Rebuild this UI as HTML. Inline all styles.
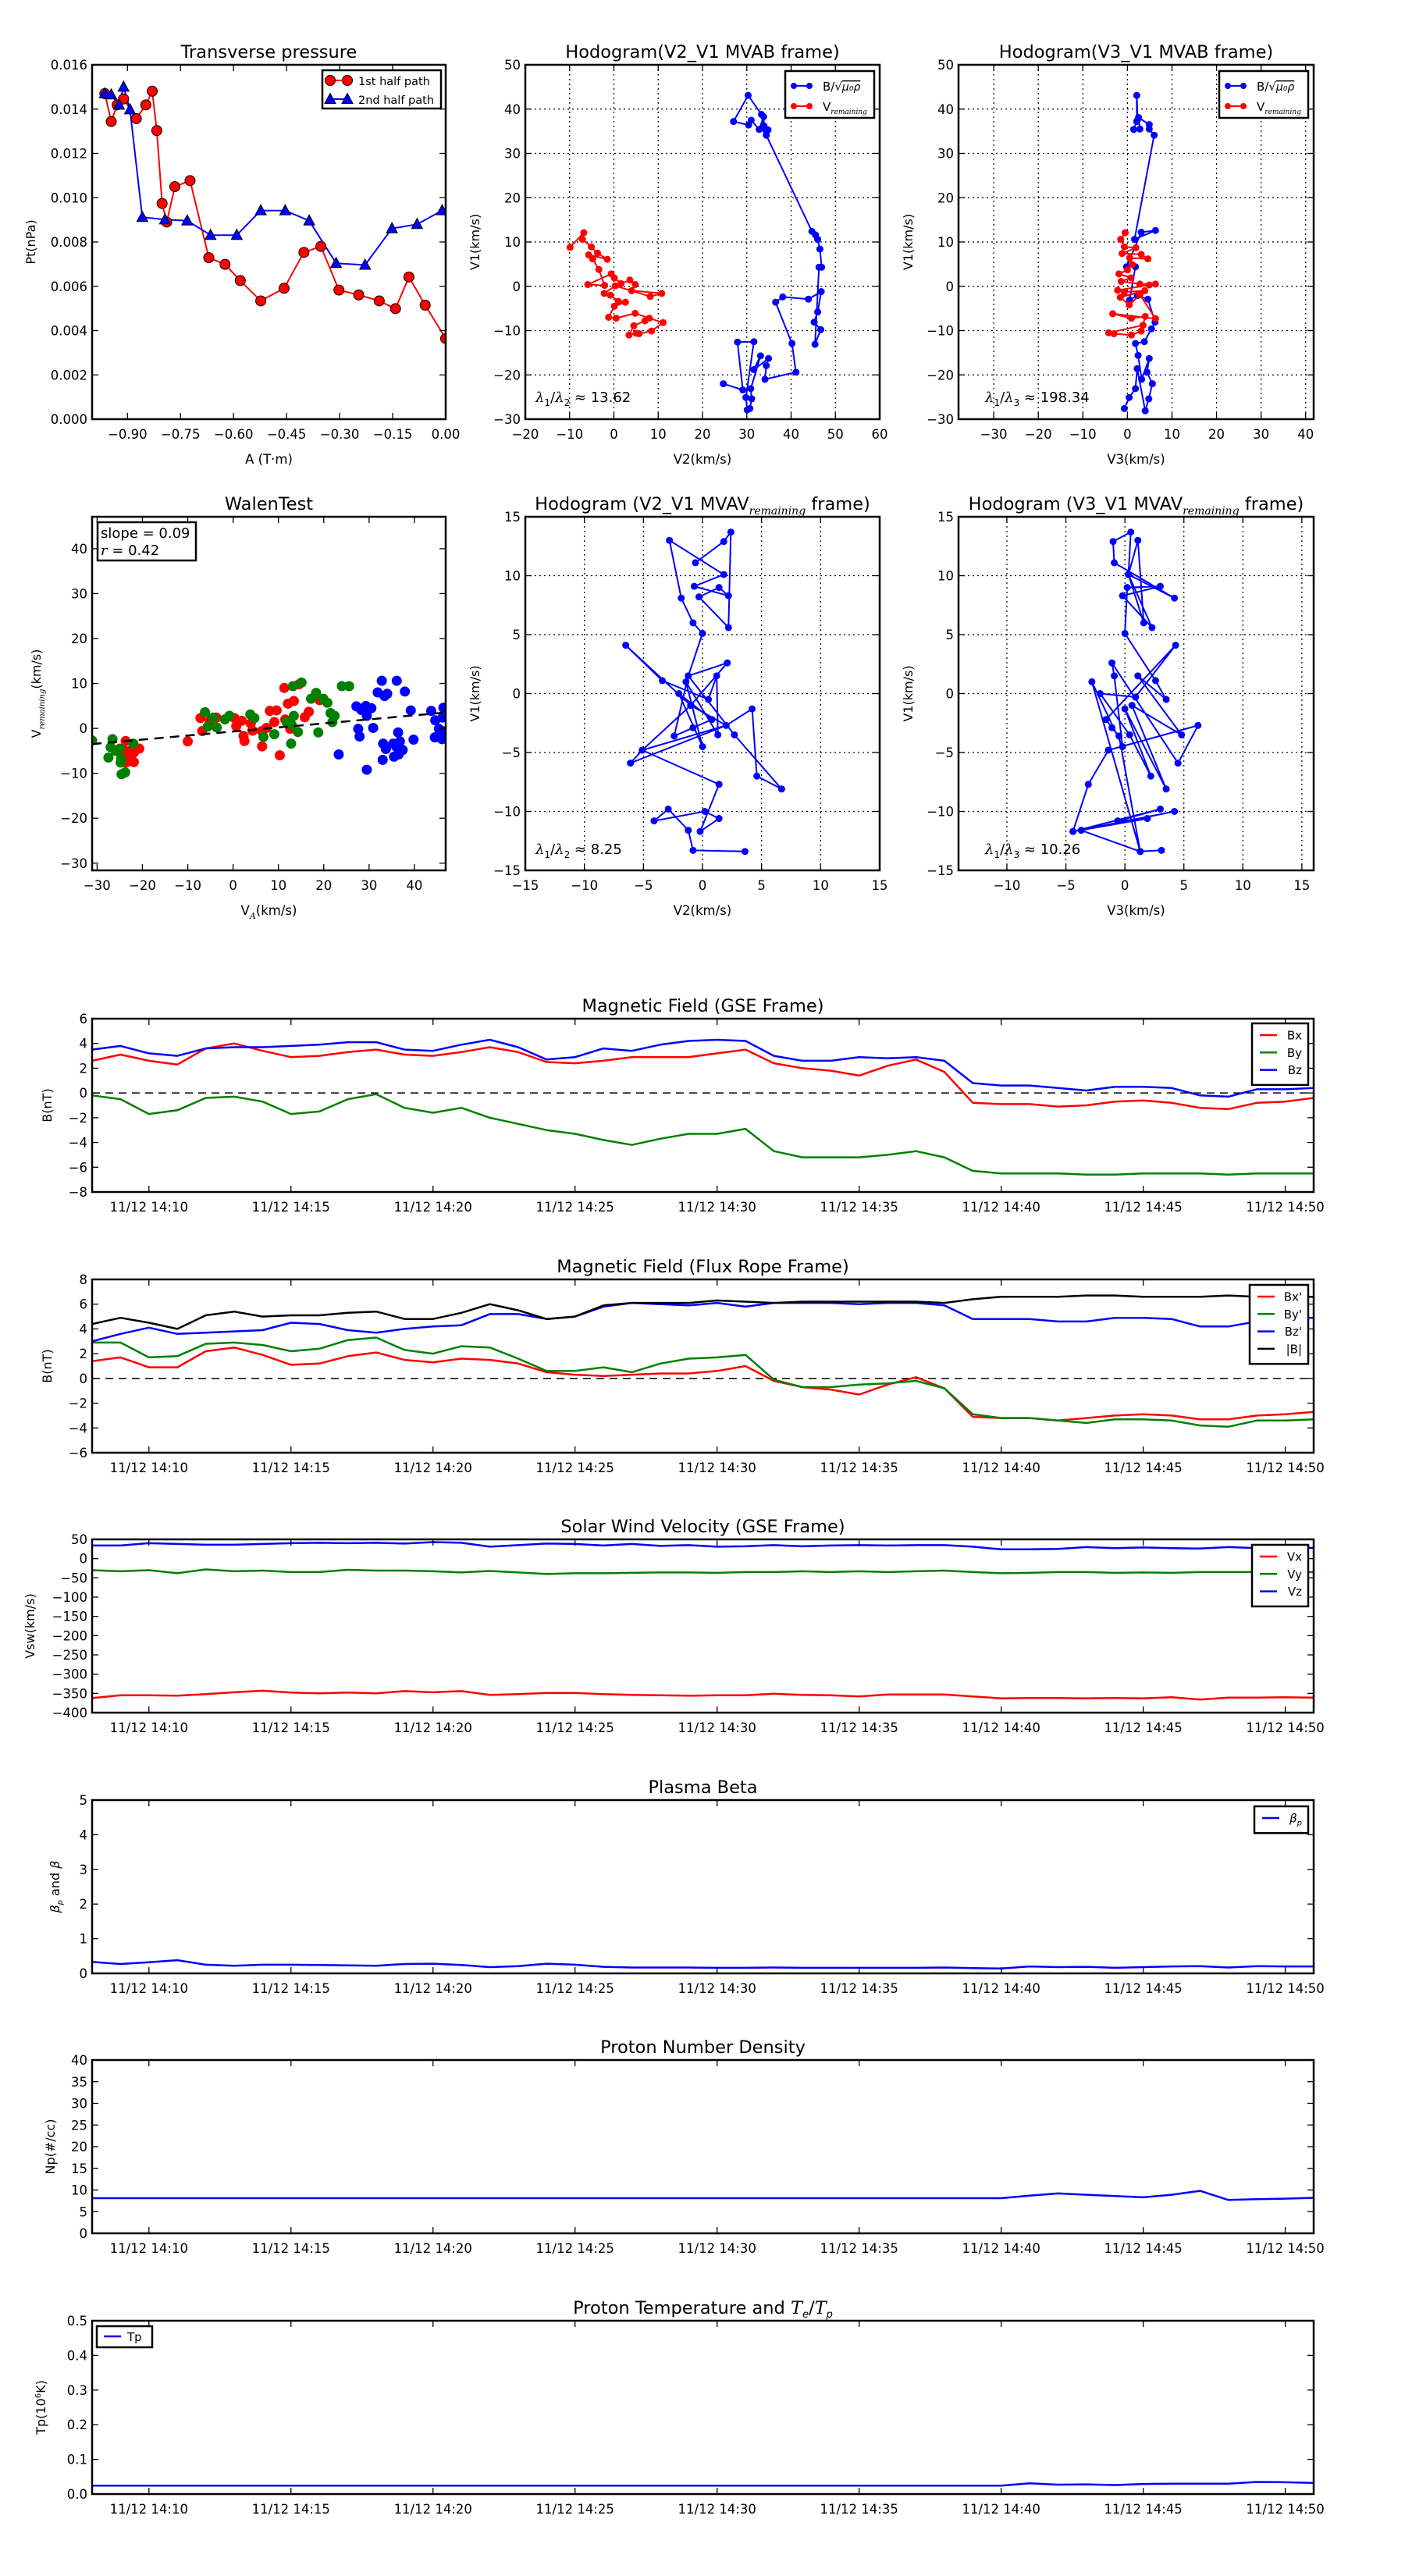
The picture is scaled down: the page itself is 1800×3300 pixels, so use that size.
<!DOCTYPE html>
<html><head><meta charset="utf-8"><title>Flux rope analysis</title>
<style>
html,body{margin:0;padding:0;background:#fff;}
svg{display:block;font-family:"DejaVu Sans","Liberation Sans",sans-serif;}
</style></head>
<body>
<svg id="fig" xmlns="http://www.w3.org/2000/svg" width="1800" height="3300" viewBox="0 0 1800 3300">
<rect x="0" y="0" width="1800" height="3300" fill="#fff"/>
</svg>
<script>
// ---------------- DATA ----------------
const tp1A=[-0.964,-0.946,-0.929,-0.911,-0.875,-0.848,-0.830,-0.817,-0.802,-0.789,-0.766,-0.723,-0.670,-0.624,-0.581,-0.523,-0.457,-0.401,-0.353,-0.302,-0.246,-0.188,-0.142,-0.104,-0.058,0.0];
const tp1P=[0.01470,0.01344,0.01419,0.01446,0.01357,0.01419,0.01481,0.01303,0.00974,0.00890,0.01050,0.01077,0.00729,0.00699,0.00626,0.00534,0.00591,0.00753,0.00780,0.00583,0.00561,0.00534,0.00499,0.00642,0.00515,0.00364];
const tp2A=[-0.964,-0.946,-0.924,-0.911,-0.893,-0.858,-0.794,-0.731,-0.665,-0.591,-0.523,-0.454,-0.386,-0.310,-0.228,-0.152,-0.081,-0.010];
const tp2P=[0.01470,0.01465,0.01419,0.01500,0.01398,0.00912,0.00901,0.00896,0.00831,0.00831,0.00942,0.00942,0.00896,0.00704,0.00696,0.00861,0.00880,0.00942];
const abB21=[[24.7,-22.0],[29.1,-23.4],[27.9,-12.6],[31.6,-12.5],[29.8,-25.1],[30.1,-27.9],[30.7,-27.6],[31.1,-25.4],[30.9,-23.1],[33.1,-15.7],[31.6,-18.8],[34.9,-16.3],[34.4,-17.9],[34.1,-21.0],[41.1,-19.4],[40.2,-12.9],[36.5,-3.6],[38.1,-2.4],[43.9,-2.9],[46.8,-1.2],[46.0,-5.8],[45.2,-8.1],[46.7,-9.8],[45.4,-13.1],[46.3,4.3],[46.9,4.3],[46.5,8.4],[46.0,10.6],[45.5,11.6],[44.7,12.4],[34.4,34.1],[34.8,35.3],[33.9,36.2],[33.8,38.3],[32.8,35.4],[31.0,37.5],[30.4,36.4],[27.0,37.2],[30.3,43.1],[33.3,38.8],[34.2,35.3]];
const abV21=[[-9.9,8.8],[-6.8,12.1],[-7.1,10.6],[-5.1,8.9],[-3.7,7.5],[-1.5,6.1],[-5.7,7.1],[-4.8,6.2],[-3.4,3.8],[-2.1,0.2],[-5.9,0.4],[-0.6,2.8],[0.1,1.9],[1.6,0.6],[3.6,1.4],[4.8,0.4],[4.0,-1.0],[10.8,-1.6],[8.2,-2.3],[0.3,0.1],[-2.2,-1.6],[-0.8,-2.0],[1.0,-3.4],[2.6,-3.6],[0.1,-4.5],[-1.2,-7.0],[0.5,-7.2],[4.8,-6.1],[8.0,-7.2],[11.1,-8.2],[8.5,-10.1],[5.7,-10.7],[5.0,-10.6],[3.4,-11.0],[4.5,-8.9],[7.0,-7.8]];
const abB31=[[-0.7,-27.6],[0.4,-25.1],[1.8,-23.1],[2.2,-18.6],[4.0,-28.1],[4.8,-25.4],[5.6,-22.0],[4.4,-19.4],[4.9,-16.3],[3.2,-21.0],[2.4,-15.6],[1.8,-12.9],[3.8,-12.5],[5.4,-9.6],[6.2,-8.1],[4.6,-2.9],[2.2,-2.1],[0.5,-3.1],[1.8,4.4],[-0.2,4.4],[3.1,12.2],[6.3,12.6],[1.6,10.6],[6.0,34.1],[4.9,35.5],[4.9,36.5],[2.5,38.1],[2.8,35.5],[1.4,35.4],[2.1,37.2],[2.1,43.1],[2.3,37.6]];
const abV31=[[-0.5,12.1],[-1.5,10.6],[-0.7,8.9],[1.9,8.7],[-1.2,7.4],[3.1,7.2],[4.6,6.2],[0.5,6.4],[1.1,4.9],[0.0,3.7],[-1.9,2.8],[0.8,1.9],[-1.4,1.1],[2.8,0.5],[6.3,0.5],[4.9,0.3],[-2.2,-0.9],[-0.7,-1.3],[3.9,-1.0],[-1.6,-2.5],[0.4,-4.2],[2.8,-1.9],[6.3,-7.3],[-3.3,-6.2],[0.9,-7.2],[4.0,-6.8],[3.5,-8.8],[-4.2,-10.5],[-3.0,-10.7],[0.9,-11.0],[3.1,-10.1]];
const walenRed=[[-23.7,-2.8],[-24.2,-4.7],[-22.7,-5.0],[-21.9,-5.4],[-20.7,-4.5],[-23.6,-7.6],[-21.9,-7.5],[-23,-6.1],[-10.0,-2.9],[-7.2,2.3],[-6.8,-0.6],[-5.1,1.7],[-3.7,2.4],[0.3,2.3],[0.7,0.5],[1.9,1.7],[2.3,-1.7],[2.5,-2.8],[3.9,1.1],[4.3,-0.5],[6.3,-0.6],[6.4,-4.0],[7.4,0.1],[8.1,3.9],[9.6,4.0],[9.1,1.4],[10.3,-6.0],[11.3,9.0],[11.5,2.0],[12.1,5.5],[12.6,-0.1],[13.4,6.1],[14.5,9.8],[15.8,2.5],[16.7,3.7],[19.1,6.3]];
const walenGreen=[[-31.1,-2.7],[-26.6,-2.4],[-27.0,-4.2],[-27.5,-6.5],[-25.9,-5.0],[-25.0,-4.5],[-24.7,-6.7],[-24.8,-7.6],[-24.6,-10.2],[-23.8,-9.8],[-22.0,-3.4],[-6.2,3.6],[-5.6,0.4],[-4.4,2.4],[-3.6,0.2],[-1.8,2.0],[-0.8,2.8],[3.8,3.1],[4.7,2.3],[6.7,-1.9],[9.1,-1.3],[11.8,1.4],[12.9,0.8],[13.4,2.8],[13.2,9.4],[15.1,10.2],[14.3,-0.8],[12.8,-3.4],[17.2,6.6],[18.3,7.9],[19.9,6.6],[20.8,5.7],[18.8,-0.9],[21.5,3.4],[22.4,2.8],[21.9,1.4],[24.0,9.4],[25.6,9.4]];
const walenBlue=[[23.3,-5.8],[27.2,4.9],[28.3,4.1],[29.3,5.0],[30.5,4.5],[29.5,2.8],[27.6,-0.1],[27.9,-1.8],[29.5,-9.2],[30.9,0.1],[31.9,8.0],[32.8,10.6],[33.4,7.2],[34.0,7.7],[36.1,10.6],[37.9,8.2],[39.2,4.0],[33.1,-3.4],[33.7,-4.6],[33.0,-7.0],[35.3,-3.4],[36.4,-0.9],[36.8,-2.9],[36.1,-4.2],[37.4,-4.8],[35.5,-6.3],[36.5,-5.8],[39.8,-2.5],[43.7,3.9],[44.6,1.8],[46.4,4.6],[46.2,2.4],[45.4,-0.1],[46.2,-0.6],[44.5,-2.0],[46.1,-2.4]];
const walenSlope=0.09;
const walenIntercept=-0.7;
const avB21=[[3.6,-13.4],[-0.8,-13.3],[-1.2,-11.6],[-2.9,-9.8],[-4.1,-10.8],[0.2,-10.0],[1.4,-10.6],[-0.2,-11.7],[1.4,-7.7],[-5.1,-4.8],[2.0,-2.7],[-6.1,-5.9],[-5.1,-4.8],[-1.0,-1.0],[-6.5,4.1],[-3.4,1.1],[0.5,-0.5],[1.2,1.5],[1.3,-3.5],[-1.4,1.0],[0.0,-4.5],[-2.0,0.0],[0.8,-2.2],[-0.8,-2.9],[-2.4,-3.6],[-1.2,1.5],[2.1,2.6],[-1.0,-1.0],[2.0,-2.7],[4.2,-1.3],[4.6,-7.0],[6.7,-8.1],[2.7,-3.5],[-1.2,1.5],[0.0,5.1],[-0.8,6.0],[-1.8,8.1],[-2.8,13.0],[1.8,10.1],[-0.7,9.1],[2.2,8.3],[1.4,9.0],[-0.3,8.2],[2.2,5.6],[2.4,13.7],[1.8,12.9],[-0.6,11.1]];
const avB31=[[3.1,-13.3],[1.3,-13.4],[-3.7,-11.6],[4.2,-10.0],[-4.4,-11.7],[3.0,-9.8],[-0.6,-10.8],[1.9,-10.6],[-4.4,-11.7],[-3.1,-7.7],[-1.4,-4.8],[6.2,-2.7],[4.5,-5.9],[-1.1,2.6],[-0.9,1.5],[-0.2,-4.5],[-2.8,1.0],[1.3,-13.4],[-0.5,-3.6],[-1.1,-2.9],[-1.6,-2.2],[4.3,4.1],[0.9,-0.3],[-2.1,0.0],[0.4,-3.5],[2.2,-7.0],[0.0,-1.3],[3.5,-8.1],[0.6,-1.0],[4.8,-3.5],[1.1,1.5],[3.5,-0.5],[2.6,1.1],[0.0,5.1],[0.2,9.0],[3.0,9.1],[-0.2,8.3],[2.3,5.6],[0.3,10.1],[4.2,8.1],[-0.9,11.1],[-1.0,12.9],[0.5,13.7],[0.3,10.1],[1.6,6.0],[1.1,13.0],[0.3,10.1]];
const tMin=[0,1,2,3,4,5,6,7,8,9,10,11,12,13,14,15,16,17,18,19,20,21,22,23,24,25,26,27,28,29,30,31,32,33,34,35,36,37,38,39,40,41,42,43];
const timeTicks=[2,7,12,17,22,27,32,37,42];
const timeTickLabels=["11/12 14:10","11/12 14:15","11/12 14:20","11/12 14:25","11/12 14:30","11/12 14:35","11/12 14:40","11/12 14:45","11/12 14:50"];
const gseBx=[2.6,3.1,2.6,2.3,3.6,4.0,3.4,2.9,3.0,3.3,3.5,3.1,3.0,3.3,3.7,3.3,2.5,2.4,2.6,2.9,2.9,2.9,3.2,3.5,2.4,2.0,1.8,1.4,2.2,2.7,1.7,-0.8,-0.9,-0.9,-1.1,-1.0,-0.7,-0.6,-0.8,-1.2,-1.3,-0.8,-0.7,-0.4];
const gseBy=[-0.2,-0.5,-1.7,-1.4,-0.4,-0.3,-0.7,-1.7,-1.5,-0.5,-0.1,-1.2,-1.6,-1.2,-2.0,-2.5,-3.0,-3.3,-3.8,-4.2,-3.7,-3.3,-3.3,-2.9,-4.7,-5.2,-5.2,-5.2,-5.0,-4.7,-5.2,-6.3,-6.5,-6.5,-6.5,-6.6,-6.6,-6.5,-6.5,-6.5,-6.6,-6.5,-6.5,-6.5];
const gseBz=[3.5,3.8,3.2,3.0,3.6,3.7,3.7,3.8,3.9,4.1,4.1,3.5,3.4,3.9,4.3,3.7,2.7,2.9,3.6,3.4,3.9,4.2,4.3,4.2,3.0,2.6,2.6,2.9,2.8,2.9,2.6,0.8,0.6,0.6,0.4,0.2,0.5,0.5,0.4,-0.2,-0.3,0.3,0.3,0.4];
const frBx=[1.4,1.7,0.9,0.9,2.2,2.5,1.9,1.1,1.2,1.8,2.1,1.5,1.3,1.6,1.5,1.2,0.5,0.3,0.2,0.3,0.4,0.4,0.6,1.0,-0.2,-0.7,-0.9,-1.3,-0.5,0.1,-0.8,-3.1,-3.2,-3.2,-3.4,-3.2,-3.0,-2.9,-3.0,-3.3,-3.3,-3.0,-2.9,-2.7];
const frBy=[2.9,2.9,1.7,1.8,2.8,2.9,2.7,2.2,2.4,3.1,3.3,2.3,2.0,2.6,2.5,1.6,0.6,0.6,0.9,0.5,1.2,1.6,1.7,1.9,-0.1,-0.7,-0.7,-0.5,-0.4,-0.2,-0.8,-2.9,-3.2,-3.2,-3.4,-3.6,-3.3,-3.3,-3.4,-3.8,-3.9,-3.4,-3.4,-3.3];
const frBz=[3.0,3.6,4.1,3.6,3.7,3.8,3.9,4.5,4.4,3.9,3.7,4.0,4.2,4.3,5.2,5.2,4.8,5.0,5.8,6.1,6.0,5.9,6.1,5.8,6.1,6.1,6.1,6.0,6.1,6.1,5.9,4.8,4.8,4.8,4.6,4.6,4.9,4.9,4.8,4.2,4.2,4.6,4.9,4.9];
const frBt=[4.4,4.9,4.5,4.0,5.1,5.4,5.0,5.1,5.1,5.3,5.4,4.8,4.8,5.3,6.0,5.5,4.8,5.0,5.9,6.1,6.1,6.1,6.3,6.2,6.1,6.2,6.2,6.2,6.2,6.2,6.1,6.4,6.6,6.6,6.6,6.7,6.7,6.6,6.6,6.6,6.7,6.6,6.6,6.6];
const vswVx=[-362,-355,-355,-356,-352,-347,-343,-348,-350,-348,-350,-344,-347,-344,-354,-352,-349,-349,-352,-354,-355,-356,-355,-355,-351,-354,-355,-358,-353,-353,-353,-358,-363,-362,-362,-363,-362,-363,-360,-366,-361,-361,-360,-361];
const vswVy=[-30,-33,-30,-38,-28,-33,-31,-35,-35,-29,-31,-31,-33,-36,-32,-36,-40,-38,-38,-37,-36,-36,-37,-35,-35,-33,-35,-33,-35,-33,-31,-35,-38,-37,-35,-35,-37,-36,-37,-35,-35,-35,-36,-35];
const vswVz=[34,34,40,38,36,36,38,40,41,40,41,39,43,41,31,35,39,38,34,38,33,35,31,32,35,32,34,35,34,35,35,31,24,24,25,30,27,29,27,26,30,27,27,28];
const betaP=[0.33,0.27,0.32,0.38,0.25,0.22,0.25,0.25,0.24,0.23,0.22,0.27,0.28,0.24,0.18,0.21,0.28,0.25,0.19,0.17,0.17,0.17,0.16,0.16,0.17,0.16,0.16,0.16,0.16,0.16,0.17,0.15,0.14,0.20,0.18,0.19,0.16,0.18,0.20,0.21,0.17,0.21,0.20,0.20];
const densNp=[8.1,8.1,8.1,8.1,8.1,8.1,8.1,8.1,8.1,8.1,8.1,8.1,8.1,8.1,8.1,8.1,8.1,8.1,8.1,8.1,8.1,8.1,8.1,8.1,8.1,8.1,8.1,8.1,8.1,8.1,8.1,8.1,8.1,8.7,9.2,8.9,8.6,8.3,8.9,9.8,7.7,7.9,8.0,8.2];
const tempTp=[0.024,0.024,0.024,0.024,0.024,0.024,0.024,0.024,0.024,0.024,0.024,0.024,0.024,0.024,0.024,0.024,0.024,0.024,0.024,0.024,0.024,0.024,0.024,0.024,0.024,0.024,0.024,0.024,0.024,0.024,0.024,0.024,0.024,0.031,0.027,0.028,0.026,0.029,0.030,0.030,0.030,0.035,0.034,0.032];

// ---------------- HELPERS ----------------
const NS='http://www.w3.org/2000/svg';
const svg=document.getElementById('fig');
let clipId=0;
function el(tag,attrs,parent){
  const e=document.createElementNS(NS,tag);
  for(const k in attrs) e.setAttribute(k,attrs[k]);
  (parent||svg).appendChild(e);
  return e;
}
function nm(e,name){
  
  
  return e;
}
function fmtMinus(s){return String(s).replace('-','\u2212');}
function text(parent,x,y,str,size,anchor,extra){
  const a={x:x,y:y,'font-size':size,'text-anchor':anchor||'middle',fill:'#000'};
  if(extra) for(const k in extra) a[k]=extra[k];
  const t=el('text',a,parent);
  t.textContent=str;
  return t;
}
function makeAxes(name,box,dom,o){
  const g=el('g',{});
  nm(g,name);
  const sx=v=>box.l+(v-dom.xmin)/(dom.xmax-dom.xmin)*(box.r-box.l);
  const sy=v=>box.b-(v-dom.ymin)/(dom.ymax-dom.ymin)*(box.b-box.t);
  const id='clip'+(clipId++);
  const cp=el('clipPath',{id:id},g);
  el('rect',{x:box.l,y:box.t,width:box.r-box.l,height:box.b-box.t},cp);
  if(o.grid){
    const gg=el('g',{stroke:'#000','stroke-width':1.2,'stroke-dasharray':'2,4'},g);
    nm(gg,name+'-grid');
    o.xticks.forEach(v=>{if(v>dom.xmin&&v<dom.xmax) el('line',{x1:sx(v),x2:sx(v),y1:box.t,y2:box.b},gg);});
    o.yticks.forEach(v=>{if(v>dom.ymin&&v<dom.ymax) el('line',{y1:sy(v),y2:sy(v),x1:box.l,x2:box.r},gg);});
  }
  const plot=el('g',{'clip-path':'url(#'+id+')'},g);
  nm(plot,name+'-plot-area');
  const tk=el('g',{stroke:'#000','stroke-width':1.3},g);
  nm(tk,name+'-ticks');
  const xl=el('g',{},g);
  nm(xl,name+'-x-tick-labels');
  o.xticks.forEach((v,i)=>{
    const x=sx(v);
    el('line',{x1:x,x2:x,y1:box.b,y2:box.b-8},tk);
    el('line',{x1:x,x2:x,y1:box.t,y2:box.t+8},tk);
    text(xl,x,box.b+25,o.xlabels?o.xlabels[i]:fmtMinus(v),o.tickSize||16.5,'middle');
  });
  const yl=el('g',{},g);
  nm(yl,name+'-y-tick-labels');
  o.yticks.forEach((v,i)=>{
    const y=sy(v);
    el('line',{x1:box.l,x2:box.l+8,y1:y,y2:y},tk);
    el('line',{x1:box.r,x2:box.r-8,y1:y,y2:y},tk);
    text(yl,box.l-6,y+6,o.ylabels?o.ylabels[i]:fmtMinus(v),16.5,'end');
  });
  const fr=el('rect',{x:box.l,y:box.t,width:box.r-box.l,height:box.b-box.t,fill:'none',stroke:'#000','stroke-width':2.5},g);
  nm(fr,name+'-frame');
  if(o.title){const t=text(g,(box.l+box.r)/2,box.t-9,'',22.5,'middle');nm(t,name+'-title');o.title(t);}
  if(o.xlabel){const t=text(g,(box.l+box.r)/2,box.b+57,'',16.5,'middle');nm(t,name+'-x-axis-title');o.xlabel(t);}
  if(o.ylabel){const yx=o.ylabelX;const yy=(box.t+box.b)/2;const t=text(g,yx,yy,'',16,'middle',{transform:'rotate(-90 '+yx+' '+yy+')'});nm(t,name+'-y-axis-title');o.ylabel(t);}
  return {g:g,plot:plot,sx:sx,sy:sy};
}
function span(t,str,attrs){
  const s=el('tspan',attrs||{},t);
  s.textContent=str;
  return s;
}
function plain(str){return t=>span(t,str);}
function rangeTicks(a,b,s){const r=[];for(let v=a;v<=b+1e-9;v+=s)r.push(Math.round(v*1000)/1000);return r;}
function polyline(ax,xs,ys,color,w,name,dash){
  const pts=xs.map((x,i)=>ax.sx(x).toFixed(1)+','+ax.sy(ys[i]).toFixed(1)).join(' ');
  const p=el('polyline',{points:pts,fill:'none',stroke:color,'stroke-width':w,'stroke-linejoin':'round'},ax.plot);
  if(dash) p.setAttribute('stroke-dasharray',dash);
  nm(p,name);
  return p;
}
function dots(ax,pairs,color,r,name,edge){
  const g=el('g',{fill:color},ax.plot);
  nm(g,name);
  pairs.forEach(p=>{
    const c=el('circle',{cx:ax.sx(p[0]),cy:ax.sy(p[1]),r:r},g);
    if(edge){c.setAttribute('stroke','#000');c.setAttribute('stroke-width',1);}
  });
  return g;
}
function legendBox(parent,x,y,w,h,name){
  const r=el('rect',{x:x,y:y,width:w,height:h,fill:'#fff',stroke:'#000','stroke-width':2.5},parent);
  nm(r,name);
  return r;
}
function lambdaText(t,sub,val){
  span(t,'\u03bb',{'font-style':'italic','font-family':'DejaVu Serif, serif'});
  span(t,'1',{'font-size':12,dy:5});
  span(t,'/',{dy:-5});
  span(t,'\u03bb',{'font-style':'italic','font-family':'DejaVu Serif, serif'});
  span(t,sub,{'font-size':12,dy:5});
  span(t,' \u2248 '+val,{dy:-5});
}
function sqrtLabel(t){
  span(t,'B/\u221a');
  span(t,'\u03bc\u2080\u03c1',{'font-style':'italic','text-decoration':'overline','font-size':14});
}
function vremLegend(t){
  span(t,'V');
  span(t,'remaining',{'font-style':'italic','font-size':9,dy:4,'font-family':'DejaVu Serif, serif'});
}
function vremAxis(t){
  span(t,'V');
  span(t,'remaining',{'font-style':'italic','font-size':10,dy:5,'font-family':'DejaVu Serif, serif'});
  span(t,'(km/s)',{dy:-5});
}
function hodoLegend(ax,box){
  const lg=el('g',{},ax.g);
  nm(lg,'legend');
  legendBox(lg,box.r-121,box.t+8,114,60,'legend-box');
  const rows=[['#0000ff',sqrtLabel,box.t+27],['#ff0000',vremLegend,box.t+53]];
  rows.forEach((r,i)=>{
    const e=el('g',{},lg);
    nm(e,i?'legend-entry-vremaining':'legend-entry-b-alfven');
    el('line',{x1:box.r-112,x2:box.r-88,y1:r[2],y2:r[2],stroke:r[0],'stroke-width':2},e);
    el('circle',{cx:box.r-110,cy:r[2],r:4,fill:r[0]},e);
    el('circle',{cx:box.r-90,cy:r[2],r:4,fill:r[0]},e);
    const t=text(e,box.r-73,r[2]+6,'',15,'start');
    r[1](t);
  });
}
function pairsX(p){return p.map(a=>a[0]);}
function pairsY(p){return p.map(a=>a[1]);}

const rowT={t:83,b:537};
const row2={t:662,b:1115};
(function(){
  const box={l:118,r:571,t:rowT.t,b:rowT.b};
  const ax=makeAxes('transverse-pressure-chart',box,{xmin:-1.0,xmax:0,ymin:0,ymax:0.016},{
    xticks:[-0.9,-0.75,-0.6,-0.45,-0.3,-0.15,0],xlabels:['\u22120.90','\u22120.75','\u22120.60','\u22120.45','\u22120.30','\u22120.15','0.00'],
    yticks:rangeTicks(0,0.016,0.002),ylabels:['0.000','0.002','0.004','0.006','0.008','0.010','0.012','0.014','0.016'],
    title:plain('Transverse pressure'),xlabel:plain('A (T\u00b7m)'),ylabel:plain('Pt(nPa)'),ylabelX:45});
  polyline(ax,tp1A,tp1P,'#ff0000',2,'series-1st-half-line');
  polyline(ax,tp2A,tp2P,'#0000ff',2,'series-2nd-half-line');
  const g1=el('g',{fill:'#ff0000',stroke:'#000','stroke-width':1},ax.plot);
  nm(g1,'series-1st-half-markers');
  tp1A.forEach((a,i)=>el('circle',{cx:ax.sx(a),cy:ax.sy(tp1P[i]),r:6.5},g1));
  const g2=el('g',{fill:'#0000ff',stroke:'#000','stroke-width':1},ax.plot);
  nm(g2,'series-2nd-half-markers');
  tp2A.forEach((a,i)=>{const x=ax.sx(a),y=ax.sy(tp2P[i]);el('polygon',{points:(x)+','+(y-7.5)+' '+(x-7)+','+(y+5.5)+' '+(x+7)+','+(y+5.5)},g2);});
  const lg=el('g',{},ax.g);
  nm(lg,'legend');
  legendBox(lg,413,90,152,49,'legend-box');
  const e1=el('g',{},lg);nm(e1,'legend-entry-1st-half');
  el('line',{x1:423,x2:445,y1:103,y2:103,stroke:'#ff0000','stroke-width':2},e1);
  el('circle',{cx:423,cy:103,r:6.5,fill:'#ff0000',stroke:'#000'},e1);
  el('circle',{cx:445,cy:103,r:6.5,fill:'#ff0000',stroke:'#000'},e1);
  text(e1,459,109,'1st half path',14.5,'start');
  const e2=el('g',{},lg);nm(e2,'legend-entry-2nd-half');
  el('line',{x1:423,x2:445,y1:127,y2:127,stroke:'#0000ff','stroke-width':2},e2);
  el('polygon',{points:'423,119.5 416,132.5 430,132.5',fill:'#0000ff',stroke:'#000'},e2);
  el('polygon',{points:'445,119.5 438,132.5 452,132.5',fill:'#0000ff',stroke:'#000'},e2);
  text(e2,459,133,'2nd half path',14.5,'start');
})();
(function(){
  const box={l:673,r:1127,t:rowT.t,b:rowT.b};
  const ax=makeAxes('hodogram-v2-v1-mvab-chart',box,{xmin:-20,xmax:60,ymin:-30,ymax:50},{
    xticks:rangeTicks(-20,60,10),yticks:rangeTicks(-30,50,10),grid:true,
    title:plain('Hodogram(V2_V1 MVAB frame)'),xlabel:plain('V2(km/s)'),ylabel:plain('V1(km/s)'),ylabelX:614});
  polyline(ax,pairsX(abB21),pairsY(abB21),'#0000ff',2,'series-b-alfven-line');
  dots(ax,abB21,'#0000ff',4.5,'series-b-alfven-points');
  polyline(ax,pairsX(abV21),pairsY(abV21),'#ff0000',2,'series-vremaining-line');
  dots(ax,abV21,'#ff0000',4.5,'series-vremaining-points');
  hodoLegend(ax,box);
  const t=text(ax.g,686,515,'',18,'start');nm(t,'eigenvalue-ratio-label');lambdaText(t,'2','13.62');
})();
(function(){
  const box={l:1228,r:1683,t:rowT.t,b:rowT.b};
  const ax=makeAxes('hodogram-v3-v1-mvab-chart',box,{xmin:-37.9,xmax:41.8,ymin:-30,ymax:50},{
    xticks:rangeTicks(-30,40,10),yticks:rangeTicks(-30,50,10),grid:true,
    title:plain('Hodogram(V3_V1 MVAB frame)'),xlabel:plain('V3(km/s)'),ylabel:plain('V1(km/s)'),ylabelX:1169});
  polyline(ax,pairsX(abB31),pairsY(abB31),'#0000ff',2,'series-b-alfven-line');
  dots(ax,abB31,'#0000ff',4.5,'series-b-alfven-points');
  polyline(ax,pairsX(abV31),pairsY(abV31),'#ff0000',2,'series-vremaining-line');
  dots(ax,abV31,'#ff0000',4.5,'series-vremaining-points');
  hodoLegend(ax,box);
  const t=text(ax.g,1262,515,'',18,'start');nm(t,'eigenvalue-ratio-label');lambdaText(t,'3','198.34');
})();
(function(){
  const box={l:118,r:571,t:row2.t,b:row2.b};
  const ax=makeAxes('walen-test-chart',box,{xmin:-31.1,xmax:46.9,ymin:-31.6,ymax:47.1},{
    xticks:rangeTicks(-30,40,10),yticks:rangeTicks(-30,40,10),
    title:plain('WalenTest'),xlabel:t=>{span(t,'V');span(t,'A',{'font-style':'italic','font-size':11,dy:5,'font-family':'DejaVu Serif, serif'});span(t,'(km/s)',{dy:-5});},
    ylabel:vremAxis,ylabelX:52});
  dots(ax,walenRed,'#ff0000',6.5,'series-red-points');
  dots(ax,walenGreen,'#008000',6.5,'series-green-points');
  dots(ax,walenBlue,'#0000ff',6.5,'series-blue-points');
  const xa=-31.1,xb=46.9;
  polyline(ax,[xa,xb],[walenSlope*xa+walenIntercept,walenSlope*xb+walenIntercept],'#000',2.5,'fit-line','12,8');
  const lg=el('g',{},ax.g);nm(lg,'fit-stats-box');
  legendBox(lg,125,669,126,49,'fit-stats-frame');
  text(lg,129,689,'slope = 0.09',18,'start');
  const t=text(lg,129,711,'',18,'start');
  span(t,'r',{'font-style':'italic','font-family':'DejaVu Serif, serif'});span(t,' = 0.42');
})();
function mvavTitle(v){return t=>{span(t,'Hodogram ('+v+'_V1 MVAV');span(t,'remaining',{'font-style':'italic','font-size':14,dy:6,'font-family':'DejaVu Serif, serif'});span(t,' frame)',{dy:-6});};}
(function(){
  const box={l:673,r:1127,t:row2.t,b:row2.b};
  const ax=makeAxes('hodogram-v2-v1-mvav-chart',box,{xmin:-15,xmax:15,ymin:-15,ymax:15},{
    xticks:rangeTicks(-15,15,5),yticks:rangeTicks(-15,15,5),grid:true,
    title:mvavTitle('V2'),xlabel:plain('V2(km/s)'),ylabel:plain('V1(km/s)'),ylabelX:614});
  polyline(ax,pairsX(avB21),pairsY(avB21),'#0000ff',2,'series-b-alfven-line');
  dots(ax,avB21,'#0000ff',4.5,'series-b-alfven-points');
  const t=text(ax.g,686,1094,'',18,'start');nm(t,'eigenvalue-ratio-label');lambdaText(t,'2','8.25');
})();
(function(){
  const box={l:1228,r:1683,t:row2.t,b:row2.b};
  const ax=makeAxes('hodogram-v3-v1-mvav-chart',box,{xmin:-14.1,xmax:16.0,ymin:-15,ymax:15},{
    xticks:rangeTicks(-10,15,5),yticks:rangeTicks(-15,15,5),grid:true,
    title:mvavTitle('V3'),xlabel:plain('V3(km/s)'),ylabel:plain('V1(km/s)'),ylabelX:1169});
  polyline(ax,pairsX(avB31),pairsY(avB31),'#0000ff',2,'series-b-alfven-line');
  dots(ax,avB31,'#0000ff',4.5,'series-b-alfven-points');
  const t=text(ax.g,1262,1094,'',18,'start');nm(t,'eigenvalue-ratio-label');lambdaText(t,'3','10.26');
})();
function timeAxes(name,top,ymin,ymax,yticks,ylabels,title,ylabel,ylx){
  const box={l:118,r:1683,t:top,b:top+222};
  return makeAxes(name,box,{xmin:0,xmax:43,ymin:ymin,ymax:ymax},{
    xticks:timeTicks,xlabels:timeTickLabels,tickSize:16.5,yticks:yticks,ylabels:ylabels,
    title:title,ylabel:ylabel,ylabelX:ylx});
}
function tsLegend(ax,x,y,w,entries,name){
  const lg=el('g',{},ax.g);nm(lg,name);
  legendBox(lg,x,y,w,12+entries.length*22.3,'legend-box');
  entries.forEach((e,i)=>{
    const cy=y+15+i*22.3;
    const g=el('g',{},lg);
    nm(g,'legend-entry-'+e[2]);
    el('line',{x1:x+10,x2:x+32,y1:cy,y2:cy,stroke:e[0],'stroke-width':2.5},g);
    const t=text(g,x+w-8,cy+5.5,'',15,'end');
    e[1](t);
  });
}
(function(){
  const ax=timeAxes('magnetic-field-gse-chart',1305,-8,6,rangeTicks(-8,6,2),null,plain('Magnetic Field (GSE Frame)'),plain('B(nT)'),66);
  polyline(ax,[0,43],[0,0],'#000',1.5,'zero-line','10,7');
  polyline(ax,tMin,gseBx,'#ff0000',2.5,'series-bx');
  polyline(ax,tMin,gseBy,'#008000',2.5,'series-by');
  polyline(ax,tMin,gseBz,'#0000ff',2.5,'series-bz');
  tsLegend(ax,1604,1311,72,[['#ff0000',plain('Bx'),'bx'],['#008000',plain('By'),'by'],['#0000ff',plain('Bz'),'bz']],'legend');
})();
(function(){
  const ax=timeAxes('magnetic-field-flux-rope-chart',1639,-6,8,rangeTicks(-6,8,2),null,plain('Magnetic Field (Flux Rope Frame)'),plain('B(nT)'),66);
  polyline(ax,[0,43],[0,0],'#000',1.5,'zero-line','10,7');
  polyline(ax,tMin,frBx,'#ff0000',2.5,'series-bx-prime');
  polyline(ax,tMin,frBy,'#008000',2.5,'series-by-prime');
  polyline(ax,tMin,frBz,'#0000ff',2.5,'series-bz-prime');
  polyline(ax,tMin,frBt,'#000000',2.5,'series-b-magnitude');
  tsLegend(ax,1601,1646,75,[['#ff0000',plain("Bx'"),'bx-prime'],['#008000',plain("By'"),'by-prime'],['#0000ff',plain("Bz'"),'bz-prime'],['#000',plain('|B|'),'b-magnitude']],'legend');
})();
(function(){
  const ax=timeAxes('solar-wind-velocity-chart',1972,-400,50,rangeTicks(-400,50,50),null,plain('Solar Wind Velocity (GSE Frame)'),plain('Vsw(km/s)'),44);
  polyline(ax,tMin,vswVx,'#ff0000',2.5,'series-vx');
  polyline(ax,tMin,vswVy,'#008000',2.5,'series-vy');
  polyline(ax,tMin,vswVz,'#0000ff',2.5,'series-vz');
  tsLegend(ax,1604,1979,72,[['#ff0000',plain('Vx'),'vx'],['#008000',plain('Vy'),'vy'],['#0000ff',plain('Vz'),'vz']],'legend');
})();
(function(){
  const ax=timeAxes('plasma-beta-chart',2306,0,5,rangeTicks(0,5,1),null,plain('Plasma Beta'),t=>{span(t,'\u03b2',{'font-style':'italic'});span(t,'p',{'font-size':10,dy:4,'font-style':'italic'});span(t,' and ',{dy:-4});span(t,'\u03b2',{'font-style':'italic'});},76);
  polyline(ax,tMin,betaP,'#0000ff',2.5,'series-beta-p');
  tsLegend(ax,1607,2314,69,[['#0000ff',t=>{span(t,'\u03b2',{'font-style':'italic'});span(t,'p',{'font-size':10,dy:4,'font-style':'italic'});},'beta-p']],'legend');
})();
(function(){
  const ax=timeAxes('proton-density-chart',2639,0,40,rangeTicks(0,40,5),null,plain('Proton Number Density'),plain('Np(#/cc)'),70);
  polyline(ax,tMin,densNp,'#0000ff',2.5,'series-np');
})();
(function(){
  const ax=timeAxes('proton-temperature-chart',2973,0,0.5,[0,0.1,0.2,0.3,0.4,0.5],['0.0','0.1','0.2','0.3','0.4','0.5'],
    t=>{span(t,'Proton Temperature and ');span(t,'T',{'font-style':'italic','font-family':'DejaVu Serif, serif'});span(t,'e',{'font-size':13,dy:5,'font-style':'italic'});span(t,'/',{dy:-5});span(t,'T',{'font-style':'italic','font-family':'DejaVu Serif, serif'});span(t,'p',{'font-size':13,dy:5,'font-style':'italic'});},
    t=>{span(t,'Tp(10');span(t,'6',{'font-size':10,dy:-6});span(t,'K)',{dy:6});},58);
  polyline(ax,tMin,tempTp,'#0000ff',2.5,'series-tp');
  const lg=el('g',{},ax.g);nm(lg,'legend');
  legendBox(lg,124,2980,71,27,'legend-box');
  const e=el('g',{},lg);nm(e,'legend-entry-tp');
  el('line',{x1:133,x2:155,y1:2993,y2:2993,stroke:'#0000ff','stroke-width':2.5},e);
  text(e,163,2999,'Tp',15,'start');
})();
</script>
</body></html>
